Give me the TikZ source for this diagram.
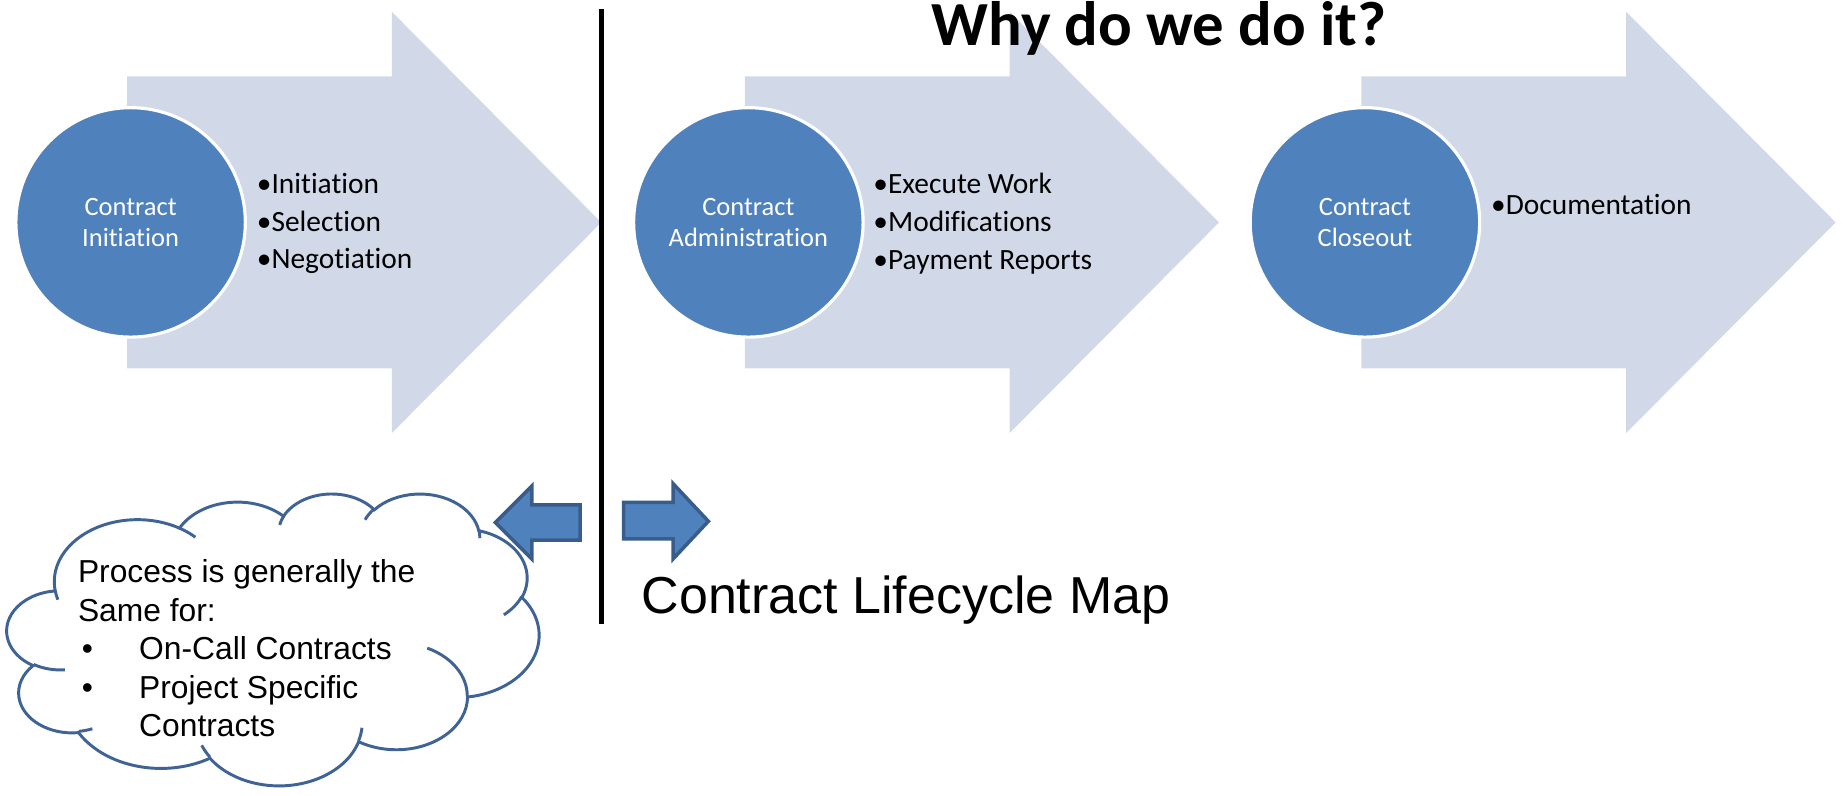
\documentclass[tikz,border=0pt]{standalone}
\usepackage{fontspec}
\setmainfont{Carlito}[Ligatures=NoCommon]
\newfontfamily\arialfont{Liberation Sans}

\definecolor{stageblue}{HTML}{4F81BD}
\definecolor{stagegray}{HTML}{D1D9E9}
\definecolor{edgeblue}{HTML}{385D8A}
\definecolor{cloudblue}{HTML}{3F6394}

% elliptic puff from start/sweep angle measured as seen on the ellipse
\pgfmathdeclarefunction{puffang}{3}{%
  \begingroup
    \pgfmathparse{atan2(#1*sin(#3),#2*cos(#3))}%
    \pgfmathsmuggle\pgfmathresult
  \endgroup}
\pgfmathdeclarefunction{puffsweep}{4}{%
  \begingroup
    \pgfmathsetmacro\puffa{atan2(#1*sin(#3),#2*cos(#3))}%
    \pgfmathsetmacro\puffb{atan2(#1*sin(#3+#4),#2*cos(#3+#4))}%
    \pgfmathsetmacro\puffd{\puffb-\puffa}%
    \pgfmathparse{\puffd+360*round((#4-\puffd)/360)}%
    \pgfmathsmuggle\pgfmathresult
  \endgroup}
\newcommand\puff[4]{arc[x radius=#1, y radius=#2, start angle={puffang(#1,#2,#3)}, delta angle={puffsweep(#1,#2,#3,#4)}]}

\begin{document}
\begin{tikzpicture}[x=0.6pt, y=-0.6pt,
    bigarrow/.style={fill=stagegray, draw=none},
    stagecircle/.style={circle, fill=stageblue, draw=white, line width=1.6pt,
      minimum size=117pt, inner sep=0pt, align=center, text=white,
      font=\fontsize{13.5}{15.6}\selectfont},
    items/.style={anchor=west, inner sep=0pt, align=left,
      font=\fontsize{15}{19.2}\selectfont},
    tabarrow/.style={fill=stageblue, draw=edgeblue, line width=1.8pt, line join=miter},
    cloudline/.style={draw=cloudblue, line width=1.5pt}]
    \useasboundingbox (0,0) rectangle (1568,676);

    % draw big arrows
    \foreach \x in {0,525,1049}
      \fill[bigarrow] (108+\x,65) -- (333+\x,65) -- (333+\x,10) -- (511+\x,189)
        -- (333+\x,368) -- (333+\x,313) -- (108+\x,313) -- cycle;

    % draw circles
    \node[stagecircle] (init) at (111,189) {Contract\\Initiation};
    \node[stagecircle] (admin) at (636,189) {Contract\\Administration};
    \node[stagecircle] (close) at (1160,189) {Contract\\Closeout};

    % draw lists
    \node[items] (initlist) at (218,190) {\textbullet Initiation\\\textbullet Selection\\\textbullet Negotiation};
    \node[items] (adminlist) at (742,190) {\textbullet Execute Work\\\textbullet Modifications\\\textbullet Payment Reports};
    \node[items] (closelist) at (1267,174) {\textbullet Documentation};

    % draw title
    \node[font=\bfseries\fontsize{32}{38}\selectfont, anchor=base, inner sep=0pt] (why) at (985,39) {Why do we do it?};

    % draw divider
    \coordinate (divtop) at (511,8);
    \coordinate (divbot) at (511,530);
    \draw[line width=2.8pt] (divtop) -- (divbot);

    % draw cloud
    \begin{scope}[shift={(6,419)}, xscale=452/432, yscale=248/432]
      \filldraw[cloudline, fill=white] (39.00,143.70)
        \puff{67.53}{91.90}{-190.48748}{123.78053}
        \puff{53.33}{72.67}{-144.10238}{89.94523}
        \puff{43.65}{59.45}{-145.80792}{99.72302}
        \puff{48.57}{65.95}{-130.98607}{117.24173}
        \puff{53.33}{72.73}{-78.70888}{109.02692}
        \puff{67.75}{92.20}{-46.26725}{130.26900}
        \puff{57.85}{78.67}{0.62502}{114.03333}
        \puff{67.52}{92.15}{22.45160}{115.17255}
        \puff{77.20}{105.43}{66.24263}{75.71102}
        \puff{43.60}{59.18}{-274.94208}{146.73557}
        \puff{43.45}{59.45}{-246.82850}{152.51885} -- cycle;
      \draw[cloudline]
        (46.93,261.77) \puff{43.45}{59.45}{86.74200}{26.42950}
        (69.28,348.99) \puff{43.60}{59.18}{73.61047}{11.44747}
        (164.78,390.90) \puff{67.52}{92.15}{137.62415}{14.08110}
        (288.27,347.51) \puff{67.52}{92.15}{6.45327}{15.99835}
        (341.29,229.54) \puff{57.85}{78.67}{-70.29235}{70.91737}
        (417.98,153.54) \puff{53.33}{72.73}{30.31803}{27.75150}
        (383.24,54.26) \puff{48.57}{65.95}{-13.74433}{14.85890}
        (290.78,39.52) \puff{48.57}{65.95}{-149.18145}{18.19537}
        (221.41,47.20) \puff{43.65}{59.45}{-163.49427}{17.68635}
        (140.00,51.92) \puff{67.53}{91.90}{-66.70695}{12.31935}
        (41.27,157.89) \puff{67.53}{91.90}{157.65435}{11.85817};
    \end{scope}
    \node[anchor=west, inner sep=0pt, align=left, font=\arialfont\fontsize{16.2}{19.6}\selectfont] (bubbletext) at (66,551)
      {Process is generally the\\Same for:\\\makebox[31.2pt][l]{\hspace{2pt}\textbullet}On-Call Contracts\\\makebox[31.2pt][l]{\hspace{2pt}\textbullet}Project Specific\\\hspace*{31.2pt}Contracts};

    % draw small arrows
    \draw[tabarrow] (421,444) -- (452,413) -- (452,429) -- (493,429) -- (493,459)
      -- (452,459) -- (452,475) -- cycle;
    \draw[tabarrow] (530,427) -- (572,427) -- (572,411) -- (602,443) -- (572,475)
      -- (572,458) -- (530,458) -- cycle;

    % draw map label
    \node[font=\arialfont\fontsize{26.5}{32}\selectfont, anchor=base west, inner sep=0pt] (map) at (545,521) {Contract Lifecycle Map};
\end{tikzpicture}
\end{document}
